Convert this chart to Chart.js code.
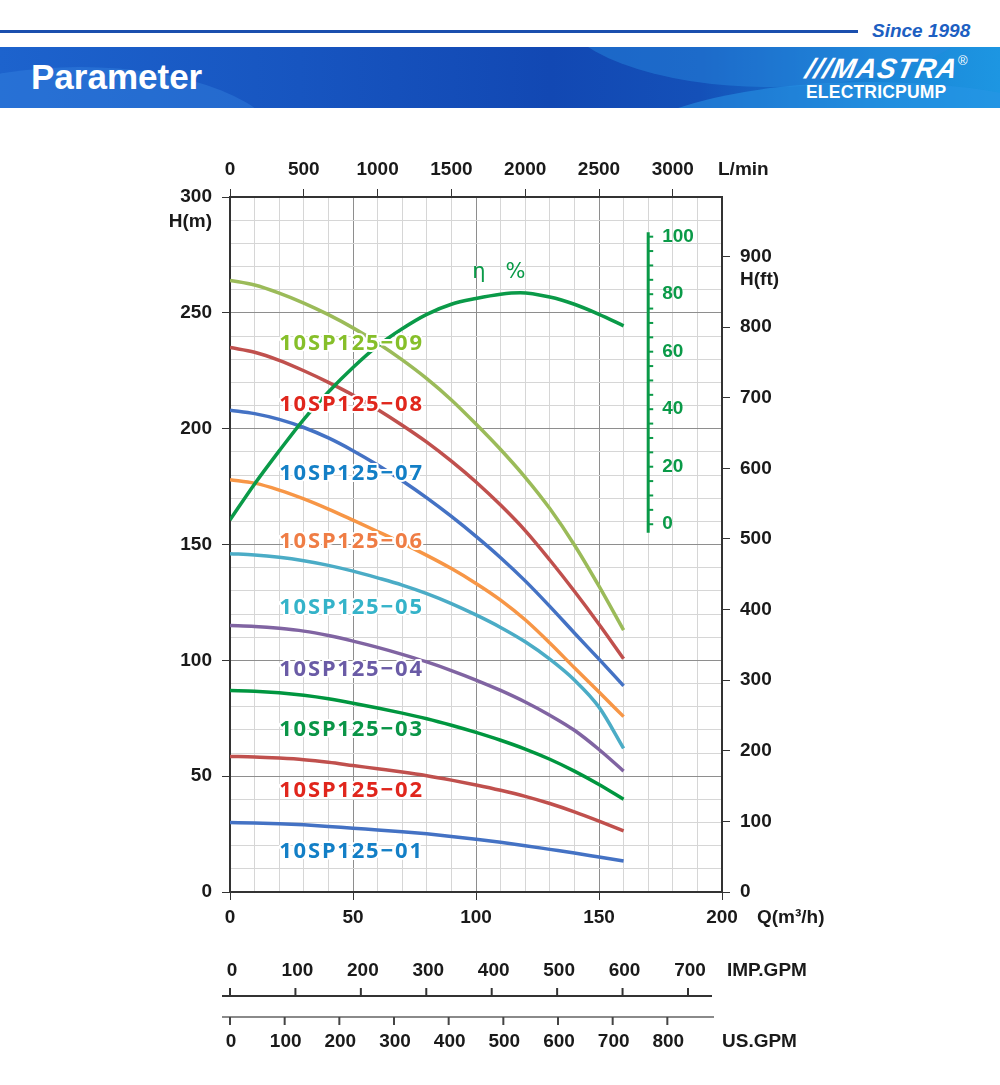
<!DOCTYPE html>
<html>
<head>
<meta charset="utf-8">
<script src="https://cdn.jsdelivr.net/npm/chart.js@4.4.1/dist/chart.umd.min.js"></script>
<style>
  html, body { margin: 0; padding: 0; background: #fff; }
  body { width: 1000px; height: 1085px; position: relative; overflow: hidden; font-family: "Liberation Sans", Arial, sans-serif; }
  #topline { position: absolute; left: 0; top: 30px; width: 858px; height: 3px; background: #1b4fae; }
  #since { position: absolute; left: 872px; top: 20px; font-size: 19px; font-weight: bold; font-style: italic; color: #1d5fc2; }
  #banner { position: absolute; left: 0; top: 47px; width: 1000px; height: 61px; overflow: hidden;
    background: linear-gradient(90deg, #1d63cd 0%, #1755c0 30%, #1248b3 55%, #1450b8 70%, #1a84d6 88%, #1d96e2 100%); }
  .blob { position: absolute; border-radius: 50%; }
  #title { position: absolute; left: 31px; top: 57px; font-size: 35px; font-weight: bold; color: #fff; }
  #logo { position: absolute; left: 806px; top: 55px; color: #fff; }
  #logo .mark { font-size: 28px; font-weight: bold; font-style: italic; letter-spacing: 1px; line-height: 27px; transform: skewX(-12deg); }
  #logo .sub { font-size: 17.5px; font-weight: bold; letter-spacing: 0.2px; line-height: 19px; margin-top: 1px; }
  #logo .reg { position: absolute; left: 152px; top: -2px; font-size: 13px; }
  #chartWrap { position: absolute; left: 0; top: 0; width: 1000px; height: 1085px; }
</style>
</head>
<body>
<div id="topline"></div>
<div id="since">Since 1998</div>
<div id="banner">
  <div class="blob" style="left:-120px; top:20px; width:400px; height:160px; background:rgba(60,140,230,0.35);"></div>
  <div class="blob" style="left:560px; top:-120px; width:420px; height:160px; background:rgba(40,140,225,0.45);"></div>
  <div class="blob" style="left:610px; top:35px; width:520px; height:160px; background:rgba(40,150,230,0.55);"></div>
</div>
<div id="title">Parameter</div>
<div id="logo">
  <div class="mark">///MASTRA</div>
  <div class="sub">ELECTRICPUMP</div>
  <div class="reg">®</div>
</div>
<div id="chartWrap"><canvas id="pumpChart" width="1000" height="1085"></canvas></div>

<script>
// flow points (m3/h) used for the head curves
const qPoints = [0, 10, 20, 30, 40, 50, 60, 70, 80, 90, 100, 110, 120, 130, 140, 150, 160];

// head (m) for each model
const head01 = [30, 29.8, 29.5, 29, 28.3, 27.5, 26.8, 26, 25.1, 24, 22.8, 21.5, 20, 18.4, 16.8, 15.1, 13.4];
const head02 = [58.5, 58.3, 57.8, 57.1, 56, 54.6, 53.2, 51.8, 50.2, 48.3, 46.2, 43.9, 41.3, 38.2, 34.6, 30.6, 26.4];
const head03 = [87, 86.7, 86, 84.9, 83.4, 81.5, 79.4, 77.2, 74.8, 72, 68.9, 65.5, 61.7, 57.3, 52.2, 46.4, 40];
const head04 = [115, 114.6, 113.8, 112.6, 110.7, 108.3, 105.6, 102.6, 99.3, 95.6, 91.5, 87, 82, 76.3, 69.8, 61.5, 52.2];
const head05 = [146, 145.5, 144.5, 143, 141, 138.5, 135.6, 132.5, 128.8, 124.5, 119.6, 114.2, 108, 100.5, 91.5, 79.8, 62];
const head06 = [178, 176.5, 173.5, 169.7, 165.3, 160.5, 155.6, 150.6, 145.3, 139.6, 133.2, 126, 117.5, 107.5, 96.8, 86.3, 75.7];
const head07 = [208, 206.5, 204, 200.5, 196, 190.5, 184.3, 177.5, 170.1, 162.1, 153.5, 144.3, 134.3, 123.3, 111.8, 100.5, 89];
const head08 = [235, 233, 229.5, 225, 220, 214.5, 208.3, 201.5, 194.2, 186, 177, 167, 156, 143.3, 129.8, 115.6, 100.7];
const head09 = [264, 262, 258.5, 254.2, 249.2, 243.5, 237, 229.7, 221.6, 212.4, 202, 191, 179, 165.5, 149.8, 132, 113];

// efficiency curve
const effQ = [0, 10, 20, 30, 40, 50, 60, 70, 80, 90, 100, 110, 118, 130, 140, 150, 160];
const effValues = [1.5, 14, 25.5, 36.5, 46, 54.5, 62, 68, 73, 76.5, 78.5, 80, 80.5, 79, 76.5, 73, 69];

// model names
const models = ["10SP125−01", "10SP125−02", "10SP125−03", "10SP125−04", "10SP125−05",
                "10SP125−06", "10SP125−07", "10SP125−08", "10SP125−09"];

// tick labels
const qTicks = [0, 50, 100, 150, 200];
const hTicks = [0, 50, 100, 150, 200, 250, 300];
const lminTicks = [0, 500, 1000, 1500, 2000, 2500, 3000];
const ftTicks = [0, 100, 200, 300, 400, 500, 600, 700, 800, 900];
const effTicks = [0, 20, 40, 60, 80, 100];
const impTicks = [0, 100, 200, 300, 400, 500, 600, 700];
const usTicks = [0, 100, 200, 300, 400, 500, 600, 700, 800];

// styling, kept apart from the data
const lineColors = ["#4472c4", "#c0504d", "#00963f", "#8064a2", "#4bacc6", "#f79646", "#4472c4", "#c0504d", "#9bbb59"];
const labelColors = ["#137fc6", "#e0261c", "#0a9547", "#6a5ba6", "#35b3c9", "#ef7d45", "#137fc6", "#e0261c", "#86bf2a"];
const labelHeads = [17.3, 43.9, 70.2, 96.1, 122.9, 151.4, 180.7, 210.5, 236.5];
const effColor = "#0a9a48";
const heads = [head01, head02, head03, head04, head05, head06, head07, head08, head09];

// unit conversions as drawn on the sheet
const lminPerM3h = 1000 / 60;
const ftPerM = 3.2808;
const impPerM3h = 3.76;
const usPerM3h = 4.5;

const axisFont = { family: "'Liberation Sans', Arial, sans-serif", size: 19, weight: "bold" };
const ink = "#1a1a1a";

function toPoints(xs, ys) {
    return xs.map((q, i) => ({ x: q, y: ys[i] }));
}

const datasets = [{
    label: "η %",
    data: toPoints(effQ, effValues),
    yAxisID: "eff",
    borderColor: effColor,
    borderWidth: 3.5,
    pointRadius: 0,
    cubicInterpolationMode: "monotone",
    fill: false
}];
heads.forEach((h, i) => {
    datasets.push({
        label: models[i],
        data: toPoints(qPoints, h),
        yAxisID: "y",
        borderColor: lineColors[i],
        borderWidth: 3.5,
        pointRadius: 0,
        cubicInterpolationMode: "monotone",
        fill: false
    });
});

const isMajor = ctx => ctx.tick && ctx.tick.value % 50 === 0;

// extra drawing: titles, efficiency scale, curve labels, GPM scales
const extrasPlugin = {
    id: "extras",
    afterDraw(chart) {
        const c = chart.ctx;
        const xs = chart.scales.x;
        const ys = chart.scales.y;
        const es = chart.scales.eff;
        const area = chart.chartArea;

        c.save();
        c.fillStyle = ink;
        c.font = "bold 19px 'Liberation Sans', Arial, sans-serif";
        c.textBaseline = "middle";

        // axis titles
        c.textAlign = "right";
        c.fillText("H(m)", area.left - 18, ys.getPixelForValue(300) + 25);
        c.textAlign = "left";
        c.fillText("H(ft)", area.right + 18, chart.scales.ft.getPixelForValue(900) + 23);
        c.fillText("L/min", area.right - 4, area.top - 27);
        c.fillText("Q(m³/h)", area.right + 35, area.bottom + 26);

        // efficiency scale
        const ex = xs.getPixelForValue(170);
        c.strokeStyle = effColor;
        c.lineWidth = 3;
        c.beginPath();
        c.moveTo(ex, es.getPixelForValue(101.5));
        c.lineTo(ex, es.getPixelForValue(-3));
        c.stroke();
        c.lineWidth = 2;
        for (let v = 0; v <= 100; v += 5) {
            const py = es.getPixelForValue(v);
            c.beginPath();
            c.moveTo(ex, py);
            c.lineTo(ex + 5, py);
            c.stroke();
        }
        c.fillStyle = effColor;
        effTicks.forEach(v => c.fillText(String(v), ex + 14, es.getPixelForValue(v)));
        c.font = "21px 'DejaVu Sans', sans-serif";
        c.textAlign = "left";
        c.fillText("η", xs.getPixelForValue(98.5), es.getPixelForValue(87.5));
        c.fillText("%", xs.getPixelForValue(112), es.getPixelForValue(87.5));

        // curve labels
        c.font = "bold 22px 'Noto Sans', sans-serif";
        c.textAlign = "left";
        if ("letterSpacing" in c) c.letterSpacing = "1.8px";
        c.lineJoin = "round";
        models.forEach((name, i) => {
            const px = xs.getPixelForValue(20);
            const py = ys.getPixelForValue(labelHeads[i]);
            c.strokeStyle = "#ffffff";
            c.lineWidth = 4;
            c.strokeText(name, px, py);
            c.fillStyle = labelColors[i];
            c.fillText(name, px, py);
        });
        if ("letterSpacing" in c) c.letterSpacing = "0px";

        // IMP.GPM scale
        c.font = "bold 19px 'Liberation Sans', Arial, sans-serif";
        c.fillStyle = ink;
        c.strokeStyle = "#333";
        c.lineWidth = 2;
        const impY = 996;
        c.beginPath();
        c.moveTo(area.left - 8, impY);
        c.lineTo(712, impY);
        c.stroke();
        c.textAlign = "center";
        impTicks.forEach(v => {
            const px = xs.getPixelForValue(v / impPerM3h);
            c.beginPath();
            c.moveTo(px, impY);
            c.lineTo(px, impY - 8);
            c.stroke();
            c.fillText(String(v), px + 2, 971);
        });
        c.textAlign = "left";
        c.fillText("IMP.GPM", 727, 971);

        // US.GPM scale
        const usY = 1017;
        c.strokeStyle = "#8a8a8a";
        c.beginPath();
        c.moveTo(area.left - 8, usY);
        c.lineTo(714, usY);
        c.stroke();
        c.strokeStyle = "#444";
        c.textAlign = "center";
        usTicks.forEach(v => {
            const px = xs.getPixelForValue(v / usPerM3h);
            c.beginPath();
            c.moveTo(px, usY);
            c.lineTo(px, usY + 8);
            c.stroke();
            c.fillText(String(v), px + 1, 1042);
        });
        c.textAlign = "left";
        c.fillText("US.GPM", 722, 1042);

        c.restore();
    }
};

new Chart(document.getElementById("pumpChart").getContext("2d"), {
    type: "line",
    data: { datasets: datasets },
    options: {
        responsive: false,
        animation: false,
        events: [],
        layout: { padding: { left: 150, right: 198, top: 150, bottom: 150 } },
        plugins: { legend: { display: false }, tooltip: { enabled: false } },
        scales: {
            x: {
                type: "linear", position: "bottom", min: 0, max: 200,
                afterFit: s => { s.height = 43; },
                afterBuildTicks: s => {
                    const t = [];
                    for (let v = 0; v <= 200; v += 10) t.push({ value: v });
                    s.ticks = t;
                },
                ticks: {
                    autoSkip: false, maxRotation: 0, padding: 6, color: ink, font: axisFont,
                    callback: v => qTicks.includes(v) ? String(v) : ""
                },
                grid: {
                    color: ctx => isMajor(ctx) ? "#8e8e8e" : "#d6d6d6",
                    tickColor: ctx => isMajor(ctx) ? "#333" : "rgba(0,0,0,0)",
                    tickLength: 8, lineWidth: 1
                },
                border: { color: "#333", width: 2 }
            },
            lmin: {
                type: "linear", position: "top", min: 0, max: 200 * lminPerM3h,
                afterFit: s => { s.height = 47; },
                afterBuildTicks: s => { s.ticks = lminTicks.map(v => ({ value: v })); },
                ticks: {
                    autoSkip: false, maxRotation: 0, padding: 8, color: ink, font: axisFont,
                    callback: v => String(v)
                },
                grid: { drawOnChartArea: false, tickColor: "#333", tickLength: 8 },
                border: { color: "#333", width: 2 }
            },
            y: {
                type: "linear", position: "left", min: 0, max: 300,
                afterFit: s => { s.width = 80; },
                afterBuildTicks: s => {
                    const t = [];
                    for (let v = 0; v <= 300; v += 10) t.push({ value: v });
                    s.ticks = t;
                },
                ticks: {
                    autoSkip: false, padding: 10, color: ink, font: axisFont,
                    callback: v => hTicks.includes(v) ? String(v) : ""
                },
                grid: {
                    color: ctx => isMajor(ctx) ? "#8e8e8e" : "#d6d6d6",
                    tickColor: ctx => isMajor(ctx) ? "#333" : "rgba(0,0,0,0)",
                    tickLength: 8, lineWidth: 1
                },
                border: { color: "#333", width: 2 }
            },
            ft: {
                type: "linear", position: "right", min: 0, max: 300 * ftPerM,
                afterFit: s => { s.width = 80; },
                afterBuildTicks: s => { s.ticks = ftTicks.map(v => ({ value: v })); },
                ticks: {
                    autoSkip: false, padding: 10, color: ink, font: axisFont,
                    callback: v => String(v)
                },
                grid: { drawOnChartArea: false, tickColor: "#333", tickLength: 8 },
                border: { color: "#333", width: 2 }
            },
            eff: {
                type: "linear", display: false, min: -127.9, max: 113.8
            }
        }
    },
    plugins: [extrasPlugin]
});
</script>
</body>
</html>
